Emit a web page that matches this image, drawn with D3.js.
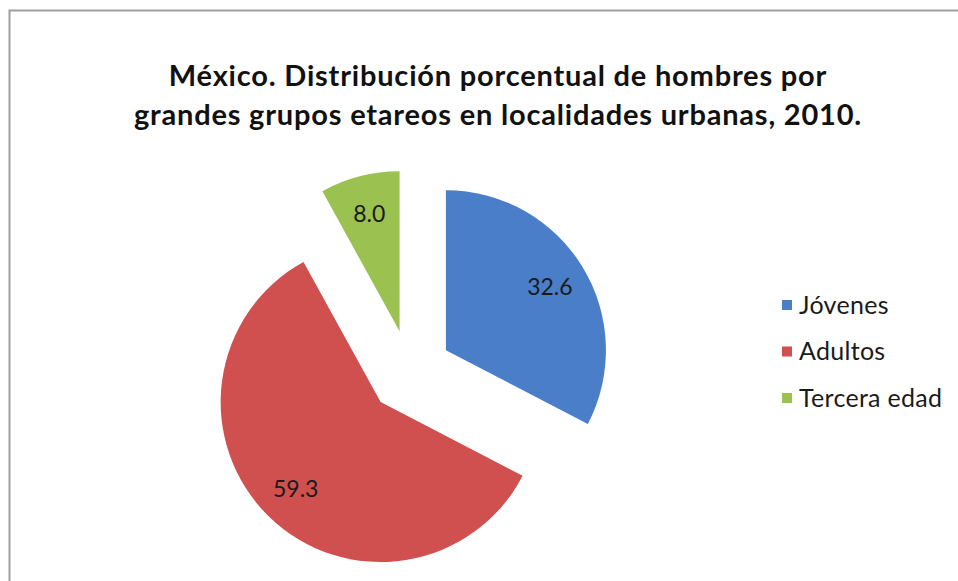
<!DOCTYPE html>
<html><head><meta charset="utf-8">
<script src="https://cdn.jsdelivr.net/npm/d3@7"></script>
<style>
html,body{margin:0;padding:0;background:#fff;}
svg{display:block;}
</style></head>
<body>
<svg id="chart" width="958" height="581"></svg>
<script>
const categories = ["Jóvenes", "Adultos", "Tercera edad"];
const values = [32.6, 59.3, 8.0];
const labels = ["32.6", "59.3", "8.0"];
const colors = ["#4A7EC8", "#CF504E", "#9BC150"];
const titleLines = ["México. Distribución porcentual de hombres por", "grandes grupos etareos en localidades urbanas, 2010."];

const svg = d3.select("#chart");
const font = "Lato, 'Open Sans', sans-serif";

// frame
svg.append("rect").attr("x", 9.5).attr("y", 10.5).attr("width", 960).attr("height", 600)
  .attr("fill", "#fff").attr("stroke", "#a0a0a0").attr("stroke-width", 2);

// title
const title = svg.append("text").attr("text-anchor", "middle")
  .attr("font-family", font).attr("font-weight", "bold").attr("font-size", 29)
  .attr("letter-spacing", 0.8).attr("fill", "#111");
titleLines.forEach((t, i) => {
  title.append("tspan").attr("x", 498).attr("y", 86 + i * 39).text(t);
});

const cx = 410, cy = 372, r = 160, explode = 42;
const pie = d3.pie().sort(null).value(d => d)(values);
const arc = d3.arc().innerRadius(0).outerRadius(r);
const labelArc = d3.arc().innerRadius(r * 0.76).outerRadius(r * 0.76);

const g = svg.append("g").attr("transform", `translate(${cx},${cy})`);
const slices = g.selectAll("g.slice").data(pie).join("g").attr("class", "slice")
  .attr("transform", d => {
    const a = (d.startAngle + d.endAngle) / 2;
    return `translate(${explode * Math.sin(a)},${-explode * Math.cos(a)})`;
  });
slices.append("path").attr("d", arc).attr("fill", (d, i) => colors[i]);
slices.append("text").attr("transform", d => `translate(${labelArc.centroid(d)})`)
  .attr("text-anchor", "middle").attr("dy", "0.35em")
  .attr("font-family", font).attr("font-size", 23).attr("fill", "#1a1a1a")
  .text((d, i) => labels[i]);

// legend
const legend = svg.append("g");
const ly = d3.scalePoint().domain(categories).range([305, 398]);
categories.forEach((c, i) => {
  legend.append("rect").attr("x", 782).attr("y", ly(c) - 5).attr("width", 10).attr("height", 10).attr("fill", colors[i]);
  legend.append("text").attr("x", 799).attr("y", ly(c)).attr("dy", "0.35em")
    .attr("font-family", font).attr("font-size", 25).attr("letter-spacing", 0.3).attr("fill", "#1a1a1a").text(c);
});
</script>
</body></html>
